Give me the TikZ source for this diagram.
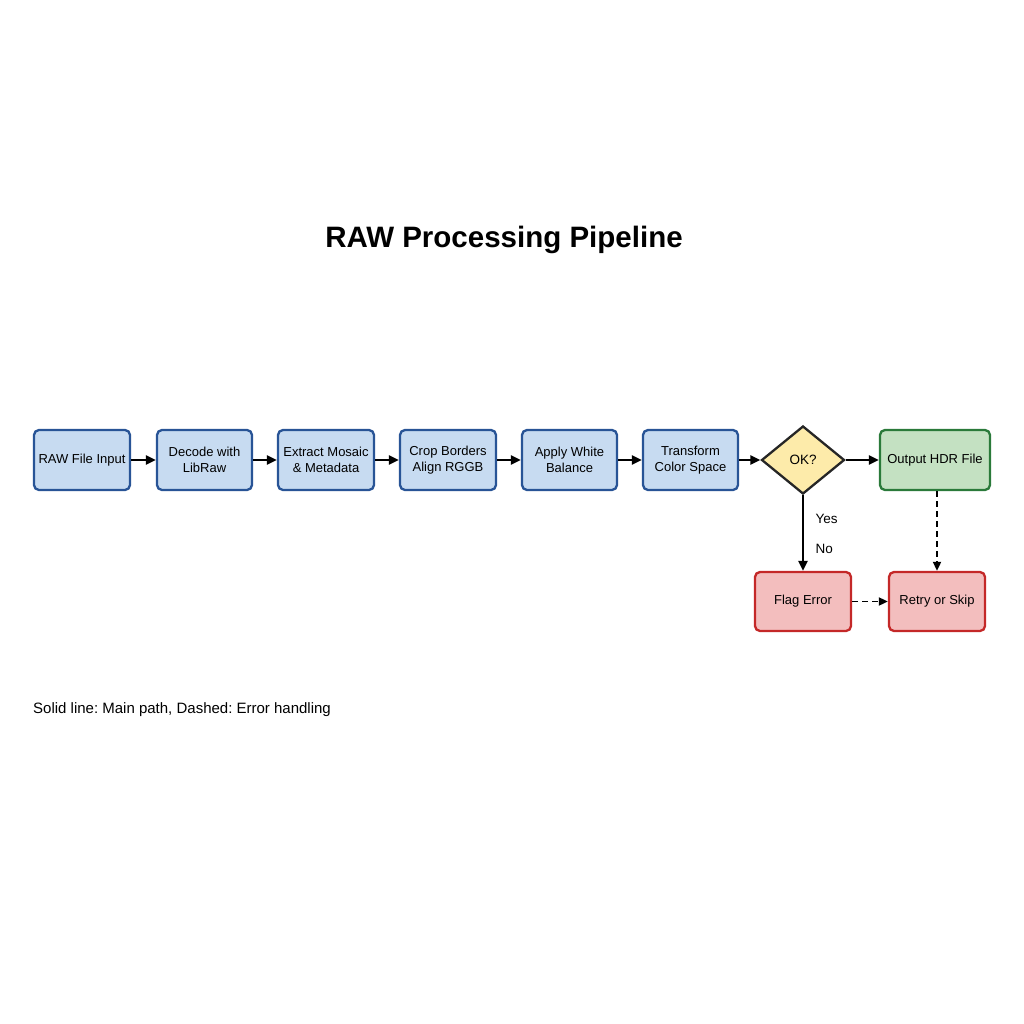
\documentclass[tikz,border=0pt]{standalone}
\usepackage{fontspec}
\setmainfont{Liberation Sans}
\usetikzlibrary{shapes.geometric,arrows.meta}
\frenchspacing
\definecolor{bfill}{RGB}{199,219,241}
\definecolor{bdraw}{RGB}{40,84,150}
\definecolor{gfill}{RGB}{196,225,194}
\definecolor{gdraw}{RGB}{42,122,58}
\definecolor{rfill}{RGB}{243,190,190}
\definecolor{rdraw}{RGB}{196,40,40}
\definecolor{yfill}{RGB}{253,235,170}
\tikzset{
  base/.style={rounded corners=5pt, line width=2.3pt, minimum height=60pt, align=center, font=\fontsize{13}{15.5}\selectfont, inner sep=2pt},
  bluebox/.style={base, fill=bfill, draw=bdraw, minimum width=96pt},
  greenbox/.style={base, fill=gfill, draw=gdraw, minimum width=110pt},
  redbox/.style={base, fill=rfill, draw=rdraw, minimum width=96pt, minimum height=59pt},
  decis/.style={diamond, aspect=1.22, fill=yfill, draw=black!85, line width=2.3pt, inner sep=0pt, minimum width=83pt, minimum height=68pt, font=\fontsize{13.5}{15}\selectfont},
  arr/.style={-{Triangle[length=10pt,width=9pt]}, line width=2.3pt},
  darr/.style={-{Triangle[length=9pt,width=8pt]}, line width=1.8pt, dash pattern=on 6pt off 4pt},
  lbl/.style={font=\fontsize{13.5}{15}\selectfont}
}
\begin{document}
\begin{tikzpicture}[x=1pt,y=-1pt]
\useasboundingbox[fill=white] (0,0) rectangle (1024,1024);
\node[font=\bfseries\fontsize{29.5}{34}\selectfont] (title) at (504,240) {RAW Processing Pipeline};
\node[bluebox] (b1) at (82,460) {RAW File Input};
\node[bluebox, minimum width=95pt] (b2) at (204.5,460) {Decode with\\LibRaw};
\node[bluebox] (b3) at (326,460) {Extract Mosaic\\\& Metadata};
\node[bluebox] (b4) at (448,460) {Crop Borders\\Align RGGB};
\node[bluebox, minimum width=95pt] (b5) at (569.5,460) {Apply White\\Balance};
\node[bluebox, minimum width=95pt] (b6) at (690.5,460) {Transform\\Color Space};
\node[decis] (ok) at (803,460) {OK?};
\node[greenbox] (out) at (935,460) {Output HDR File};
\node[redbox] (flag) at (803,601.5) {Flag Error};
\node[redbox] (retry) at (937,601.5) {Retry or Skip};
\draw[arr] (b1) -- (b2);
\draw[arr] (b2) -- (b3);
\draw[arr] (b3) -- (b4);
\draw[arr] (b4) -- (b5);
\draw[arr] (b5) -- (b6);
\draw[arr] (b6) -- (ok);
\draw[arr] (ok) -- (out);
\draw[arr] (ok.south) -- (flag.north);
\node[lbl, anchor=west] (yes) at (812,519) {Yes};
\node[lbl, anchor=west] (no) at (812,549) {No};
\draw[darr] (out.south -| retry.north) -- (retry.north);
\draw[darr] (flag) -- (retry);
\node[anchor=west, font=\fontsize{15}{17}\selectfont, inner sep=0pt] (legend) at (33,710) {Solid line: Main path, Dashed: Error handling};
\end{tikzpicture}
\end{document}
